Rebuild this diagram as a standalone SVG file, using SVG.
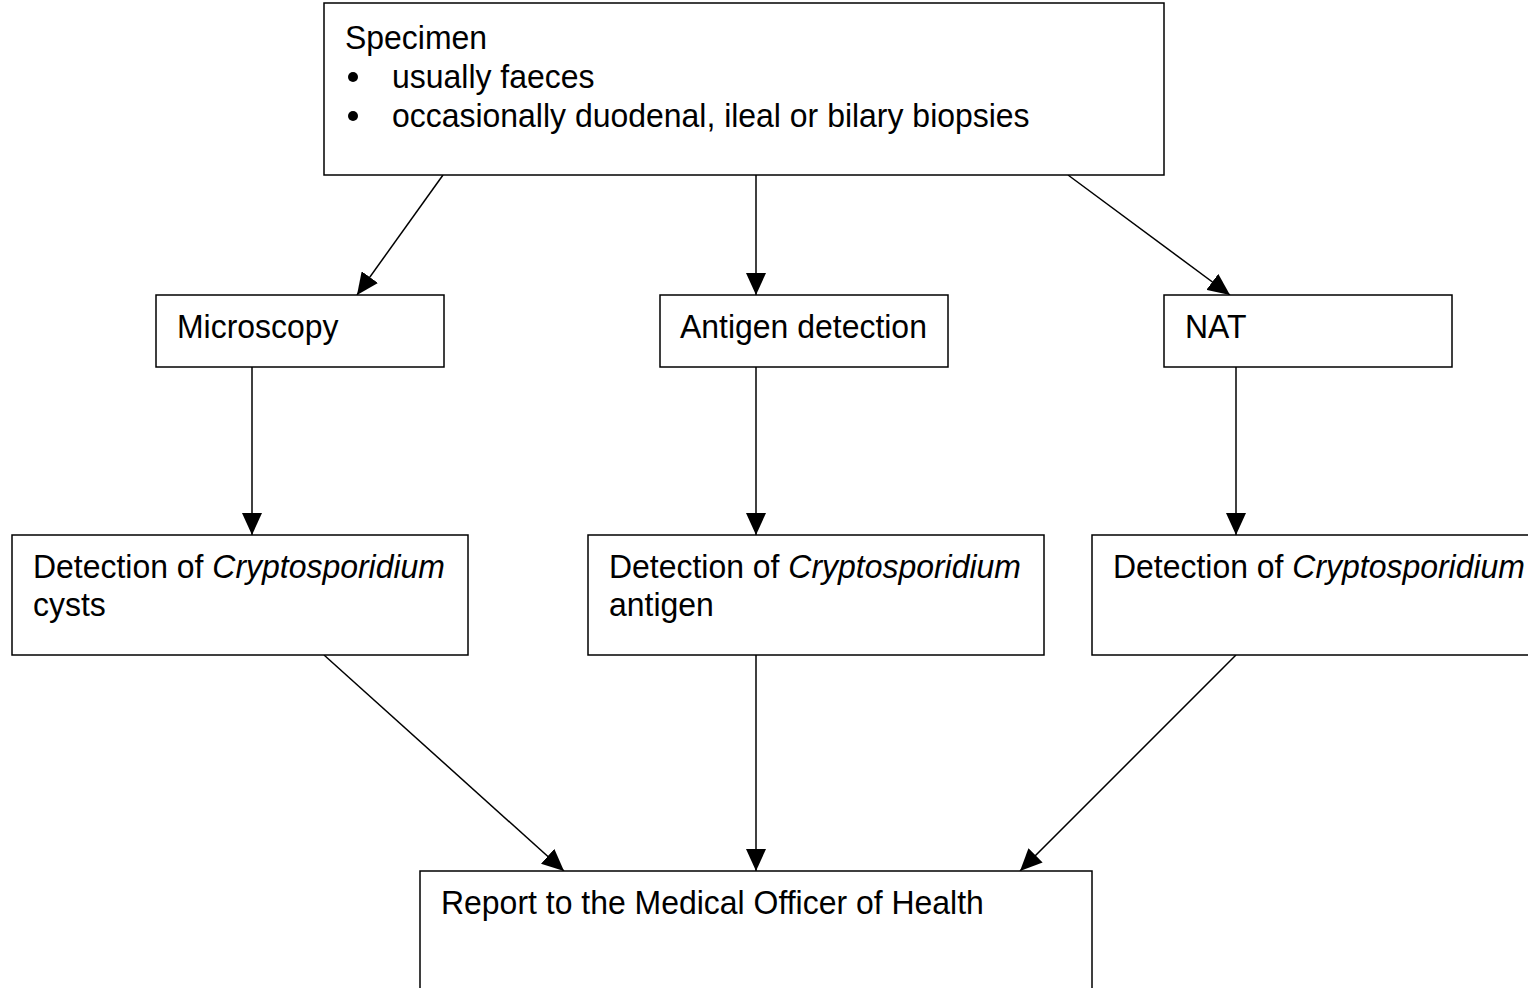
<svg xmlns="http://www.w3.org/2000/svg" width="1528" height="988" viewBox="0 0 1528 988">
<style>
.box{fill:#fff;stroke:#000;stroke-width:1.5}
.t{font-family:"Liberation Sans",Arial,sans-serif;font-size:34px;fill:#000}
.c{stroke:#000;stroke-width:1.5;fill:none;marker-end:url(#ah)}
</style>
<defs>
<marker id="ah" markerUnits="userSpaceOnUse" markerWidth="22" markerHeight="20" viewBox="0 0 22 20" refX="22" refY="10" orient="auto">
<path d="M0,0 L22,10 L0,20 Z" fill="#000"/>
</marker>
</defs>
<rect width="1528" height="988" fill="#fff"/>
<g id="connectors">
<line class="c" x1="443" y1="175" x2="357" y2="295"/>
<line class="c" x1="756" y1="175" x2="756" y2="295"/>
<line class="c" x1="1068" y1="175" x2="1230" y2="295"/>
<line class="c" x1="252" y1="367" x2="252" y2="535"/>
<line class="c" x1="756" y1="367" x2="756" y2="535"/>
<line class="c" x1="1236" y1="367" x2="1236" y2="535"/>
<line class="c" x1="324" y1="655" x2="564" y2="871"/>
<line class="c" x1="756" y1="655" x2="756" y2="871"/>
<line class="c" x1="1236" y1="655" x2="1020" y2="871"/>
</g>
<g id="specimen">
<rect class="box" x="324" y="3" width="840" height="172"/>
<text class="t" transform="translate(345,49) scale(0.94,1)">Specimen</text>
<circle cx="353" cy="77" r="5" fill="#000"/>
<text class="t" transform="translate(392,88) scale(0.94,1)">usually faeces</text>
<circle cx="353" cy="116" r="5" fill="#000"/>
<text class="t" transform="translate(392,127) scale(0.94,1)">occasionally duodenal, ileal or bilary biopsies</text>
</g>
<g id="microscopy">
<rect class="box" x="156" y="295" width="288" height="72"/>
<text class="t" transform="translate(177,338) scale(0.94,1)">Microscopy</text>
</g>
<g id="antigen">
<rect class="box" x="660" y="295" width="288" height="72"/>
<text class="t" transform="translate(680,338) scale(0.94,1)">Antigen detection</text>
</g>
<g id="nat">
<rect class="box" x="1164" y="295" width="288" height="72"/>
<text class="t" transform="translate(1185,338) scale(0.94,1)">NAT</text>
</g>
<g id="det-cysts">
<rect class="box" x="12" y="535" width="456" height="120"/>
<text class="t" transform="translate(33,578) scale(0.94,1)">Detection of <tspan font-style="italic">Cryptosporidium</tspan></text>
<text class="t" transform="translate(33,616) scale(0.94,1)">cysts</text>
</g>
<g id="det-antigen">
<rect class="box" x="588" y="535" width="456" height="120"/>
<text class="t" transform="translate(609,578) scale(0.94,1)">Detection of <tspan font-style="italic">Cryptosporidium</tspan></text>
<text class="t" transform="translate(609,616) scale(0.94,1)">antigen</text>
</g>
<g id="det-nat">
<rect class="box" x="1092" y="535" width="456" height="120"/>
<text class="t" transform="translate(1113,578) scale(0.94,1)">Detection of <tspan font-style="italic">Cryptosporidium</tspan></text>
</g>
<g id="report">
<rect class="box" x="420" y="871" width="672" height="140"/>
<text class="t" transform="translate(441,914) scale(0.94,1)">Report to the Medical Officer of Health</text>
</g>
</svg>
